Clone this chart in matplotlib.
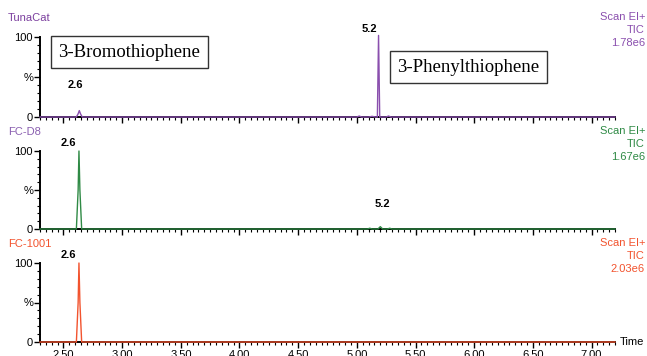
import matplotlib
matplotlib.use("Agg")
import matplotlib.pyplot as plt
from matplotlib.ticker import MultipleLocator, FormatStrFormatter

plt.rcParams['font.family'] = ['Liberation Sans', 'DejaVu Sans']

# ---- data ----
samples = ["TunaCat", "FC-D8", "FC-1001"]
tic_values = ["1.78e6", "1.67e6", "2.03e6"]
colors = ["#8a4fae", "#2f8a45", "#f2532e"]
title_colors = ["#7b3f9e", "#8a5fb0", "#f2532e"]

t_tuna = [2.30, 2.61, 2.625, 2.635, 2.645, 2.66, 5.00, 5.02, 5.04, 5.10, 5.13, 5.16,
          5.175, 5.185, 5.195, 5.21, 5.25, 5.27, 5.29, 7.20]
i_tuna = [0, 0, 4, 8, 4, 0, 0, 1.2, 0, 0, 0.8, 0, 0, 102, 0, 0, 0, 1.2, 0, 0]

t_fcd8 = [2.30, 2.61, 2.625, 2.632, 2.64, 2.655, 5.09, 5.11, 5.13, 5.18, 5.20, 5.22,
          5.26, 5.28, 5.30, 7.20]
i_fcd8 = [0, 0, 50, 100, 50, 0, 0, 1.0, 0, 0, 3.0, 0, 0, 1.0, 0, 0]

t_fc1001 = [2.30, 2.61, 2.625, 2.632, 2.64, 2.655, 7.20]
i_fc1001 = [0, 0, 50, 100, 50, 0, 0]

traces = [(t_tuna, i_tuna), (t_fcd8, i_fcd8), (t_fc1001, i_fc1001)]

# peak labels: (panel, text, x, y)
peak_labels = [(0, "2.6", 2.60, 34), (0, "5.2", 5.11, 104),
               (1, "2.6", 2.54, 104), (1, "5.2", 5.22, 26),
               (2, "2.6", 2.54, 104)]

compound_boxes = [("3-Bromothiophene", 2.455, 81), ("3-Phenylthiophene", 5.345, 62)]

xmin, xmax = 2.30, 7.20

fig = plt.figure(figsize=(6.47, 3.56), dpi=100)
W, H = 647, 356
left, right = 40, 615
panels_px = [(37, 117), (151, 229), (263, 342)]

axes = []
for k, (ytop, ybot) in enumerate(panels_px):
    ax = fig.add_axes([left / W, 1 - ybot / H, (right - left) / W, (ybot - ytop) / H])
    axes.append(ax)
    t, inten = traces[k]
    ax.plot(t, inten, color=colors[k], lw=1.0, clip_on=False, zorder=3)
    ax.set_xlim(xmin, xmax)
    ax.set_ylim(0, 100)
    for s in ["top", "right"]:
        ax.spines[s].set_visible(False)
    for s in ["left", "bottom"]:
        ax.spines[s].set_linewidth(1.4)
        ax.spines[s].set_color("black")
    ax.yaxis.set_major_locator(MultipleLocator(50))
    ax.yaxis.set_minor_locator(MultipleLocator(10))
    ax.set_yticks([0, 50, 100])
    ax.set_yticklabels(["0", "%", "100"])
    ax.xaxis.set_major_locator(MultipleLocator(0.5))
    ax.xaxis.set_minor_locator(MultipleLocator(0.05))
    ax.tick_params(axis='y', which='major', length=4, width=1, labelsize=8, pad=1)
    ax.tick_params(axis='y', which='minor', length=2.5, width=0.8)
    ax.tick_params(axis='x', which='major', length=4, width=1, labelsize=8, pad=2)
    ax.tick_params(axis='x', which='minor', length=2.5, width=0.8)
    ax.xaxis.set_major_formatter(FormatStrFormatter("%.2f"))
    if k < 2:
        ax.tick_params(axis='x', which='both', labelbottom=False)
    ax.patch.set_alpha(0)
    # sample name
    fig.text(8 / W, 1 - (ytop - 19) / H, samples[k], color=title_colors[k],
             fontsize=8, ha='left', va='center')
    # right info
    for j, txt in enumerate(["Scan EI+", "TIC", tic_values[k]]):
        fig.text(645 / W, 1 - (ytop - 20 + 13 * j) / H, txt, color=colors[k],
                 fontsize=8, ha='right', va='center')

for (p, txt, x, y) in peak_labels:
    axes[p].text(x, y, txt, fontsize=8, fontweight='bold', ha='center', va='bottom',
                 clip_on=False)

for (txt, x, y) in compound_boxes:
    axes[0].text(x, y, txt, fontsize=13.5, family=['Liberation Serif', 'DejaVu Serif'],
                 ha='left', va='center',
                 bbox=dict(boxstyle='square,pad=0.4', fc='white', ec='#333333', lw=1))

fig.text(620 / W, 1 - 342 / H, "Time", fontsize=8, ha='left', va='center')

fig.savefig("out.png", dpi=100)
